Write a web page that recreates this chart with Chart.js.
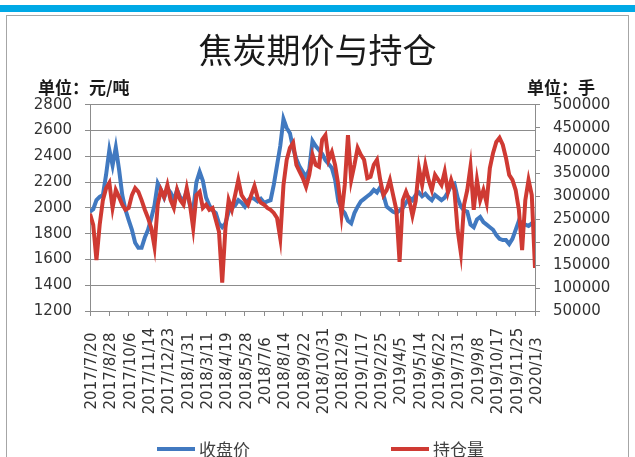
<!DOCTYPE html>
<html>
<head>
<meta charset="utf-8">
<script src="https://cdn.jsdelivr.net/npm/chart.js@4"></script>
<style>
  body { margin: 0; background: #fff; }
  #wrap { position: relative; width: 635px; height: 457px; overflow: hidden; background: #fff; }
  .band { position: absolute; left: 0; top: 5px; width: 635px; height: 7px; background: #00a9e6; }
  .frame { position: absolute; left: 6px; top: 15px; width: 621px; height: 460px; border: 1.5px solid #a6a6a6; }
  canvas { position: absolute; left: 0; top: 0; }
  #legend { position: absolute; left: 157px; top: 436px; display: flex; gap: 141px;
            font: 17px "Noto Sans CJK SC", sans-serif; color: #404040; }
  #legend .item { display: flex; align-items: center; }
  #legend i { display: inline-block; width: 38px; height: 4px; margin-right: 4px; }
</style>
</head>
<body>
<div id="wrap">
  <div class="band"></div>
  <div class="frame"></div>
  <canvas id="chart" width="635" height="457"></canvas>
  <div id="legend"></div>
</div>
<script>
// 横轴刻度（每39天一个）
const xTickLabels = ['2017/7/20', '2017/8/28', '2017/10/6', '2017/11/14', '2017/12/23', '2018/1/31',
    '2018/3/11', '2018/4/19', '2018/5/28', '2018/7/6', '2018/8/14', '2018/9/22', '2018/10/31',
    '2018/12/9', '2019/1/17', '2019/2/25', '2019/4/5', '2019/5/14', '2019/6/22', '2019/7/31',
    '2019/9/8', '2019/10/17', '2019/11/25', '2020/1/3'];

// 收盘价（元/吨），两个刻度之间6个点
const closePrice = [
    1970, 1990, 2060, 2085, 2100, 2260,
    2450, 2330, 2470, 2300, 2100, 1985,
    1905, 1830, 1730, 1690, 1690, 1770,
    1830, 1920, 2020, 2190, 2140, 2080,
    2150, 2120, 2060, 2140, 2080, 2060,
    2130, 2020, 1980, 2200, 2280, 2210,
    2080, 2020, 1980, 1960, 1880, 1850,
    1880, 1970, 2000, 2020, 2060, 2040,
    2010, 2060, 2080, 2070, 2050, 2070,
    2040, 2050, 2060, 2180, 2330, 2480,
    2690, 2620, 2580, 2460, 2380, 2320,
    2280, 2240, 2300, 2520, 2480, 2450,
    2420, 2370, 2340, 2310, 2220, 2050,
    1990, 1960, 1900, 1880, 1960, 2010,
    2050, 2070, 2090, 2110, 2140, 2120,
    2160, 2100, 2010, 1990, 1970, 1960,
    1980, 2000, 2040, 2080, 2060, 2100,
    2120, 2090, 2110, 2080, 2060, 2100,
    2080, 2060, 2080, 2120, 2180, 2190,
    2080, 2010, 1980, 1970, 1870, 1850,
    1910, 1930, 1890, 1870, 1850, 1830,
    1790, 1760, 1750, 1750, 1720, 1760,
    1830, 1900, 1880, 1870, 1860, 1880,
    1870
];

// 持仓量（手）
const openInterest = [
    262000, 238000, 161000, 238000, 292000, 318000,
    330000, 275000, 314000, 299000, 282000, 271000,
    275000, 303000, 318000, 310000, 292000, 271000,
    253000, 231000, 190000, 282000, 314000, 299000,
    325000, 292000, 275000, 314000, 292000, 282000,
    318000, 282000, 231000, 303000, 310000, 275000,
    282000, 271000, 275000, 249000, 223000, 112000,
    231000, 292000, 271000, 303000, 336000, 303000,
    292000, 282000, 303000, 323000, 297000, 286000,
    282000, 275000, 271000, 264000, 253000, 209000,
    325000, 380000, 406000, 417000, 369000, 354000,
    340000, 321000, 347000, 391000, 369000, 365000,
    424000, 434000, 380000, 397000, 369000, 325000,
    260000, 325000, 434000, 336000, 369000, 406000,
    391000, 380000, 340000, 343000, 369000, 380000,
    336000, 303000, 314000, 336000, 303000, 271000,
    157000, 292000, 310000, 292000, 258000, 290000,
    362000, 325000, 369000, 336000, 314000, 347000,
    336000, 325000, 354000, 310000, 336000, 314000,
    227000, 177000, 282000, 314000, 365000, 271000,
    336000, 292000, 314000, 286000, 362000, 395000,
    419000, 428000, 413000, 384000, 347000, 336000,
    314000, 271000, 183000, 292000, 336000, 303000,
    144000
];

const BLUE = '#4179c0';
const RED = '#cf3a33';
const GRID = '#8c8c8c';
const TICK_COLOR = '#333';
const NUM_FONT = { family: 'DejaVu Sans', size: 15 };
const CJK = '"Noto Sans CJK SC", sans-serif';

// 单位文字 + 竖排日期标签（居中对齐）
const extraText = {
    id: 'extraText',
    afterDraw(chart) {
        const ctx = chart.ctx;
        ctx.save();
        ctx.fillStyle = '#1a1a1a';
        ctx.font = 'bold 17px ' + CJK;
        ctx.textBaseline = 'middle';
        ctx.textAlign = 'left';
        ctx.fillText('单位：元/吨', 38, 88);
        ctx.fillText('单位：手', 527, 88);

        const xs = chart.scales.x;
        ctx.fillStyle = TICK_COLOR;
        ctx.font = '15px "DejaVu Sans"';
        ctx.textAlign = 'center';
        xs.ticks.forEach((t, i) => {
            if (!xTickLabels[i]) return;
            ctx.save();
            ctx.translate(xs.getPixelForValue(t.value) + 2, 371);
            ctx.rotate(-Math.PI / 2);
            ctx.fillText(xTickLabels[i], 0, 0);
            ctx.restore();
        });
        ctx.restore();
    }
};

const chart = new Chart(document.getElementById('chart'), {
    type: 'line',
    data: {
        datasets: [{
            label: '收盘价',
            data: closePrice.map((v, i) => ({ x: i, y: v })),
            yAxisID: 'y',
            borderColor: BLUE,
            backgroundColor: BLUE,
            borderWidth: 4,
            pointRadius: 0,
            order: 2
        }, {
            label: '持仓量',
            data: openInterest.map((v, i) => ({ x: i, y: v })),
            yAxisID: 'y1',
            borderColor: RED,
            backgroundColor: RED,
            borderWidth: 4,
            pointRadius: 0,
            order: 1
        }]
    },
    options: {
        responsive: false,
        animation: false,
        layout: { padding: 0 },
        plugins: {
            legend: { display: false },
            tooltip: { enabled: false },
            title: {
                display: true,
                text: '焦炭期价与持仓',
                color: '#1a1a1a',
                font: { family: CJK, size: 34, weight: 'normal' },
                padding: { top: 30, bottom: 34 }
            }
        },
        scales: {
            x: {
                type: 'linear',
                min: 0,
                max: closePrice.length - 1,
                ticks: { stepSize: 6, display: false, autoSkip: false },
                grid: { drawOnChartArea: false, tickLength: 5, color: GRID },
                border: { color: GRID },
                afterFit: s => { s.height = 146; }
            },
            y: {
                position: 'left',
                min: 1200,
                max: 2800,
                ticks: { stepSize: 200, padding: 13, color: TICK_COLOR, font: NUM_FONT, callback: v => String(v) },
                grid: { color: GRID, tickLength: 5 },
                border: { color: GRID },
                afterFit: s => { s.width = 90; }
            },
            y1: {
                position: 'right',
                min: 50000,
                max: 500000,
                ticks: { stepSize: 50000, padding: 13, color: TICK_COLOR, font: NUM_FONT, callback: v => String(v) },
                grid: { drawOnChartArea: false, tickLength: 5, color: GRID },
                border: { color: GRID },
                afterFit: s => { s.width = 100; }
            }
        }
    },
    plugins: [extraText]
});

// 图例
const legend = document.getElementById('legend');
chart.data.datasets.forEach(ds => {
    const item = document.createElement('span');
    item.className = 'item';
    item.innerHTML = '<i style="background:' + ds.borderColor + '"></i>' + ds.label;
    legend.appendChild(item);
});
</script>
</body>
</html>
